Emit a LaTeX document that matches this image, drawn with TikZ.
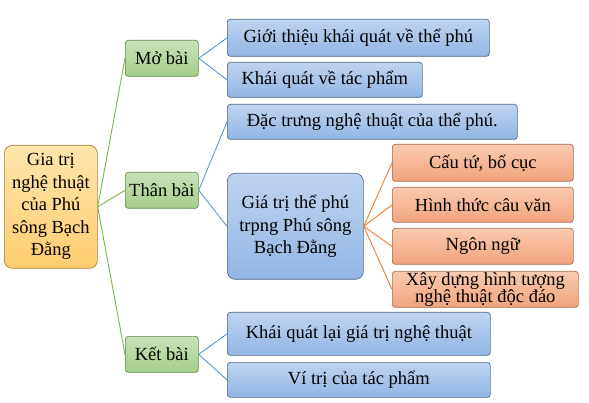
\documentclass[tikz,border=0pt]{standalone}
\usepackage{fontspec}
\setmainfont{Liberation Serif}
\begin{document}
\begin{tikzpicture}[x=1pt,y=-1pt,
  box/.style={draw, rounded corners=3pt, inner sep=0pt, anchor=north west, align=center,
    font=\fontsize{18.5}{22.5}\selectfont, line width=0.7pt},
  rootbox/.style={box, rounded corners=8pt, draw={rgb,255:red,170;green,128;blue,60},
    top color={rgb,255:red,255;green,230;blue,172}, bottom color={rgb,255:red,255;green,204;blue,112}},
  greenbox/.style={box, draw={rgb,255:red,100;green,140;blue,75},
    top color={rgb,255:red,200;green,226;blue,182}, bottom color={rgb,255:red,165;green,206;blue,138}},
  bluebox/.style={box, draw={rgb,255:red,85;green,105;blue,135},
    top color={rgb,255:red,190;green,212;blue,240}, bottom color={rgb,255:red,145;green,182;blue,228}},
  orangebox/.style={box, draw={rgb,255:red,170;green,110;blue,85},
    top color={rgb,255:red,249;green,203;blue,176}, bottom color={rgb,255:red,242;green,163;blue,125}},
  gline/.style={draw={rgb,255:red,122;green,182;blue,72}, line width=0.9pt},
  bline/.style={draw={rgb,255:red,91;green,155;blue,213}, line width=0.9pt},
  oline/.style={draw={rgb,255:red,237;green,125;blue,49}, line width=0.9pt}
]
\useasboundingbox[fill=white] (0,0) rectangle (589,403);

\node[rootbox, minimum width=93pt, minimum height=123pt] (root) at (4,145)
  {Gia trị\\nghệ thuật\\của Phú\\sông Bạch\\Đằng};

\node[greenbox, minimum width=73pt, minimum height=36pt] (mo) at (125,40) {Mở bài};
\node[greenbox, minimum width=73pt, minimum height=36pt] (than) at (125,172) {Thân bài};
\node[greenbox, minimum width=73pt, minimum height=36pt] (ket) at (125,336) {Kết bài};

\node[bluebox, minimum width=262pt, minimum height=37pt] (b1) at (227,19) {Giới thiệu khái quát về thể phú};
\node[bluebox, minimum width=195pt, minimum height=35pt] (b2) at (227,62) {Khái quát về tác phẩm};
\node[bluebox, minimum width=290pt, minimum height=35pt] (b3) at (227,104) {Đặc trưng nghệ thuật của thể phú.};
\node[bluebox, rounded corners=8pt, minimum width=136pt, minimum height=106pt] (gt) at (227,173)
  {Giá trị thể phú\\trpng Phú sông\\Bạch Đằng};
\node[bluebox, minimum width=263pt, minimum height=43pt] (b4) at (227,312) {Khái quát lại giá trị nghệ thuật};
\node[bluebox, minimum width=263pt, minimum height=35pt] (b5) at (227,362) {Ví trị của tác phẩm};

\node[orangebox, minimum width=181pt, minimum height=37pt] (o1) at (392,144) {Cấu tứ, bố cục};
\node[orangebox, minimum width=181pt, minimum height=35pt] (o2) at (392,187) {Hình thức câu văn};
\node[orangebox, minimum width=181pt, minimum height=36pt] (o3) at (392,228) {Ngôn ngữ};
\node[orangebox, minimum width=186pt, minimum height=36pt, font=\fontsize{18.5}{17}\selectfont] (o4) at (392,271)
  {Xây dựng hình tượng\\nghệ thuật độc đáo};

\draw[gline] (root.east) -- (mo.west);
\draw[gline] (root.east) -- (than.west);
\draw[gline] (root.east) -- (ket.west);

\draw[bline] (mo.east) -- (b1.west);
\draw[bline] (mo.east) -- (b2.west);
\draw[bline] (than.east) -- (b3.west);
\draw[bline] (than.east) -- (gt.west);
\draw[bline] (ket.east) -- (b4.west);
\draw[bline] (ket.east) -- (b5.west);

\draw[oline] (gt.east) -- (o1.west);
\draw[oline] (gt.east) -- (o2.west);
\draw[oline] (gt.east) -- (o3.west);
\draw[oline] (gt.east) -- (o4.west);
\end{tikzpicture}
\end{document}
